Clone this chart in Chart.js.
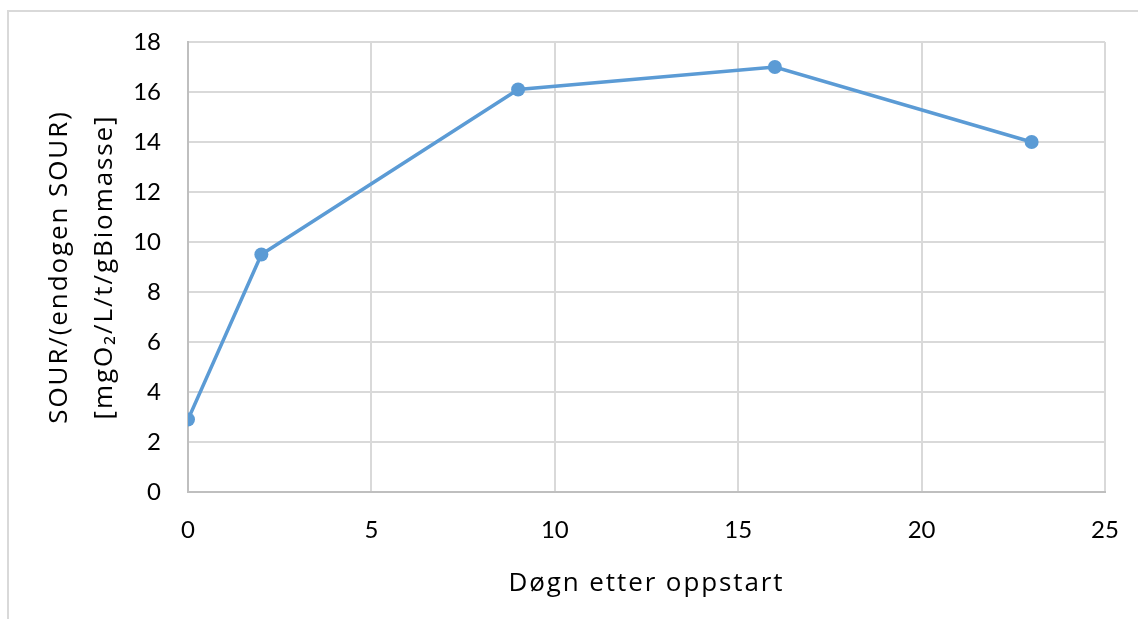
<!DOCTYPE html>
<html>
<head>
<meta charset="utf-8">
<script src="https://cdn.jsdelivr.net/npm/chart.js@4.4.1/dist/chart.umd.min.js"></script>
<style>
  html, body { margin: 0; padding: 0; background: #fff; }
  #wrap { width: 1138px; height: 619px; position: relative; }
</style>
</head>
<body>
<div id="wrap"><canvas id="sourChart"></canvas></div>
<script>
// days after start-up and the measured SOUR ratio
const days = [0, 2, 9, 16, 23];
const sour = [2.9, 9.5, 16.1, 17.0, 14.0];

const xTitle = 'Døgn etter oppstart';
const yTitle = ['SOUR/(endogen SOUR)', '[mgO₂/L/t/gBiomasse]'];

const points = [];
for (let i = 0; i < days.length; i++) {
  points.push({ x: days[i], y: sour[i] });
}

// light grey frame round the whole chart, like the excel chart box
// also widens the letters of the axis titles (ticks are drawn later, on z 1)
const frame = {
  id: 'frame',
  beforeDraw(chart) {
    const c = chart.ctx;
    c.save();
    c.strokeStyle = '#d9d9d9';
    c.lineWidth = 2;
    c.beginPath();
    c.moveTo(8, 619);
    c.lineTo(8, 11);
    c.lineTo(1138, 11);
    c.stroke();
    c.restore();
    c.letterSpacing = '1.9px';
  },
  beforeDatasetsDraw(chart) {
    chart.ctx.letterSpacing = '0px';
  }
};

const ctx = document.getElementById('sourChart').getContext('2d');
const myChart = new Chart(ctx, {
  type: 'scatter',
  data: {
    datasets: [{
      data: points,
      showLine: true,
      borderColor: '#5b9bd5',
      backgroundColor: '#5b9bd5',
      borderWidth: 3.5,
      pointRadius: 7,
      pointHoverRadius: 7,
      pointBorderWidth: 0
    }]
  },
  options: {
    responsive: true,
    maintainAspectRatio: false,
    animation: false,
    layout: { padding: { top: 42, right: 33, left: 0, bottom: 0 } },
    plugins: { legend: { display: false }, tooltip: { enabled: false } },
    scales: {
      x: {
        type: 'linear',
        min: 0,
        max: 25,
        afterFit(scale) { scale.height = 127; },
        ticks: { stepSize: 5, color: '#000', padding: 0, z: 1, font: { family: 'Lato', size: 24 } },
        grid: { color: '#d9d9d9', lineWidth: 2, drawTicks: true, tickLength: 24, tickColor: 'rgba(0,0,0,0)' },
        border: { color: '#bfbfbf', width: 2 },
        title: {
          display: true,
          text: xTitle,
          color: '#000',
          font: { family: 'Open Sans', size: 26 },
          padding: { top: 0, bottom: 20 }
        }
      },
      y: {
        min: 0,
        max: 18,
        afterFit(scale) { scale.width = 188; },
        ticks: { stepSize: 2, color: '#000', padding: 27, z: 1, font: { family: 'Lato', size: 24 } },
        grid: { color: '#d9d9d9', lineWidth: 2, drawTicks: false },
        border: { color: '#bfbfbf', width: 2 },
        title: {
          display: true,
          text: yTitle,
          color: '#000',
          font: { family: 'Open Sans', size: 26, lineHeight: 1.73 },
          padding: { top: 37, bottom: 0 }
        }
      }
    }
  },
  plugins: [frame]
});
</script>
</body>
</html>
